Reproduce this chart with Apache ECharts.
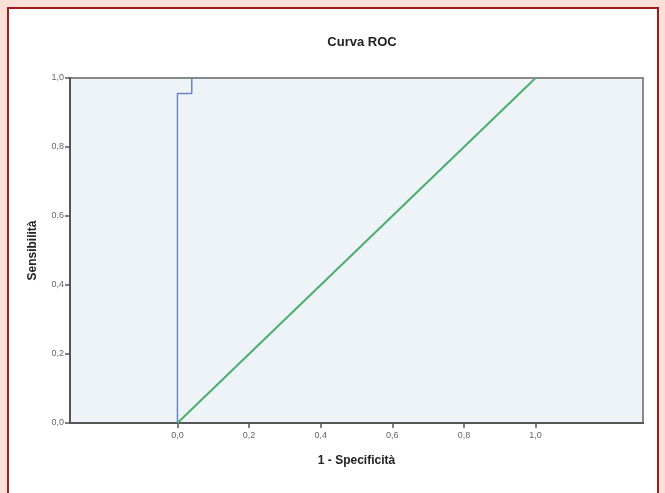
<!DOCTYPE html>
<html>
<head>
<meta charset="utf-8">
<script src="https://cdn.jsdelivr.net/npm/echarts@6/dist/echarts.min.js"></script>
<style>
  html, body { margin: 0; padding: 0; }
  body { width: 665px; height: 493px; background: #fde0d6; position: relative; overflow: hidden; }
  #frame { position: absolute; left: 7px; top: 7px; width: 648px; height: 500px; border: 2px solid #a31c1c; background: #fff; }
  #roc { position: absolute; left: 0; top: 0; width: 665px; height: 493px; }
</style>
</head>
<body>
<div id="frame"></div>
<div id="roc"></div>
<script>
// punti della curva ROC (1 - specificità, sensibilità)
const curvaRoc = [[0, 0], [0, 0.955], [0.04, 0.955], [0.04, 1]]
// linea di riferimento
const riferimento = [[0, 0], [1, 1]]
const tickX = [0, 0.2, 0.4, 0.6, 0.8, 1.0]

const fmt = (v) => v.toFixed(1).replace('.', ',')

const chart = echarts.init(document.getElementById('roc'), null, { renderer: 'canvas' })
const option = {
  animation: false,
  title: {
    text: 'Curva ROC',
    left: 357,
    top: 31,
    textAlign: 'center',
    textStyle: { fontFamily: 'Liberation Sans', fontSize: 13, fontWeight: 'bold', color: '#222' }
  },
  grid: {
    left: 70, top: 78, width: 573, height: 345,
    show: true,
    backgroundColor: '#eef3f8',
    borderColor: '#8a8a8a',
    borderWidth: 2
  },
  xAxis: {
    type: 'value',
    min: -0.3,
    max: 1.3,
    name: '1 - Specificità',
    nameLocation: 'middle',
    nameGap: 32,
    nameTextStyle: { fontFamily: 'Liberation Sans', fontSize: 12, fontWeight: 'bold', color: '#222' },
    axisLine: { show: true, onZero: false, lineStyle: { color: '#555', width: 2 } },
    axisTick: { show: true, customValues: tickX, length: 5, lineStyle: { color: '#555', width: 1.5 } },
    axisLabel: {
      customValues: tickX,
      formatter: fmt,
      margin: 8,
      fontFamily: 'Liberation Sans', fontSize: 9, color: '#666'
    },
    splitLine: { show: false }
  },
  yAxis: {
    type: 'value',
    min: 0,
    max: 1,
    interval: 0.2,
    name: 'Sensibilità',
    nameLocation: 'middle',
    nameGap: 31,
    nameTextStyle: { fontFamily: 'Liberation Sans', fontSize: 12, fontWeight: 'bold', color: '#222' },
    axisLine: { show: true, onZero: false, lineStyle: { color: '#555', width: 2 } },
    axisTick: { show: true, length: 5, lineStyle: { color: '#555', width: 1.5 } },
    axisLabel: { formatter: fmt, margin: 6, fontFamily: 'Liberation Sans', fontSize: 9, color: '#666' },
    splitLine: { show: false }
  },
  series: [
    {
      name: 'Riferimento',
      type: 'line',
      data: riferimento,
      symbol: 'none',
      lineStyle: { color: '#4cae6e', width: 2 }
    },
    {
      name: 'Curva',
      type: 'line',
      data: curvaRoc,
      symbol: 'none',
      lineStyle: { color: '#6687c0', width: 1.5 }
    }
  ]
}
chart.setOption(option)
</script>
</body>
</html>
